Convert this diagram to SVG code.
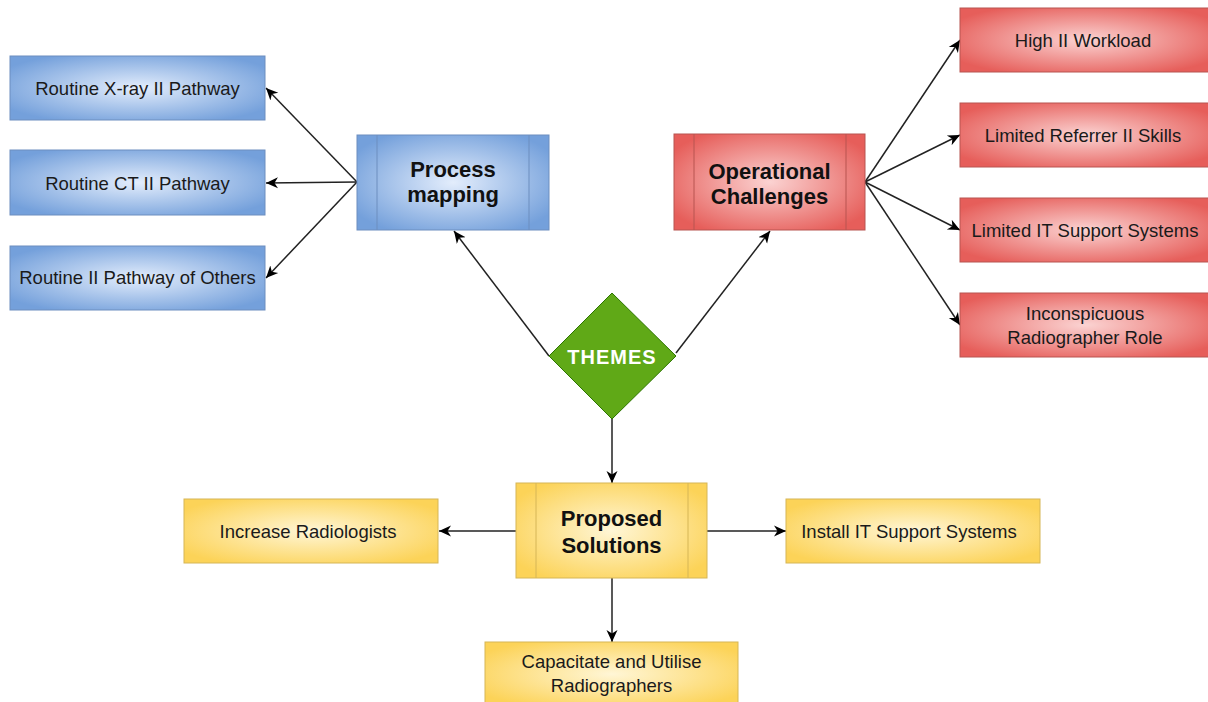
<svg xmlns="http://www.w3.org/2000/svg" width="1208" height="702" viewBox="0 0 1208 702">
<defs>
<radialGradient id="gBlue" cx="50%" cy="50%" r="60%"><stop offset="0" stop-color="#e3edfc"/><stop offset="1" stop-color="#74a0db"/></radialGradient>
<radialGradient id="gRed" cx="50%" cy="50%" r="60%"><stop offset="0" stop-color="#fbd3d2"/><stop offset="1" stop-color="#e65e5a"/></radialGradient>
<radialGradient id="gYel" cx="50%" cy="50%" r="60%"><stop offset="0" stop-color="#fff6d6"/><stop offset="1" stop-color="#fcd358"/></radialGradient>
<marker id="arr" markerUnits="userSpaceOnUse" markerWidth="14" markerHeight="14" refX="12" refY="7" orient="auto">
<path d="M0,1.5 L12,7 L0,12.5 L3.5,7 z" fill="#000"/>
</marker>
<style>
.blue{fill:url(#gBlue);stroke:#6c8ebf;stroke-width:1}
.red{fill:url(#gRed);stroke:#b85450;stroke-width:1}
.yel{fill:url(#gYel);stroke:#d6b656;stroke-width:1}
.bl{stroke:#6c8ebf;stroke-width:1}
.rl{stroke:#b85450;stroke-width:1}
.yl{stroke:#d6b656;stroke-width:1}
.t{font-family:"Liberation Sans",Arial,sans-serif;font-size:18.5px;fill:#1a1a1a;text-anchor:middle}
.h{font-family:"Liberation Sans",Arial,sans-serif;font-size:22px;font-weight:bold;fill:#111;text-anchor:middle}
.c{fill:none;stroke:#222;stroke-width:1.5;marker-end:url(#arr)}
</style>
</defs>
<rect width="1208" height="702" fill="#fff"/>
<g id="connectors">
<path class="c" d="M549,356 L454,231"/>
<path class="c" d="M676,353 L770,231"/>
<path class="c" d="M612,419 L612,483"/>
<path class="c" d="M357,182 L266,88"/>
<path class="c" d="M357,182 L266,183"/>
<path class="c" d="M357,182 L266,278"/>
<path class="c" d="M865,182 L960,40"/>
<path class="c" d="M865,182 L960,135"/>
<path class="c" d="M865,182 L960,230"/>
<path class="c" d="M865,182 L960,325"/>
<path class="c" d="M516,531 L439,531"/>
<path class="c" d="M707,531 L786,531"/>
<path class="c" d="M612,578 L612,642"/>
</g>
<g id="themes">
<polygon points="612,293 676,356 612,419 549,356" fill="#60a917" stroke="#2d7600" stroke-width="1"/>
<text x="612" y="364" font-family="Liberation Sans,Arial,sans-serif" font-size="20px" font-weight="bold" fill="#fff" text-anchor="middle" letter-spacing="1">THEMES</text>
</g>
<g id="process-mapping">
<rect class="blue" x="357" y="135" width="192" height="95"/>
<line class="bl" x1="377" y1="135" x2="377" y2="230"/>
<line class="bl" x1="529" y1="135" x2="529" y2="230"/>
<text class="h" x="453" y="177">Process</text>
<text class="h" x="453" y="202">mapping</text>
</g>
<g id="routine-xray">
<rect class="blue" x="10" y="56" width="255" height="64"/>
<text class="t" x="137.5" y="95">Routine X-ray II Pathway</text>
</g>
<g id="routine-ct">
<rect class="blue" x="10" y="150" width="255" height="65"/>
<text class="t" x="137.5" y="190">Routine CT II Pathway</text>
</g>
<g id="routine-others">
<rect class="blue" x="10" y="246" width="255" height="64"/>
<text class="t" x="137.5" y="284">Routine II Pathway of Others</text>
</g>
<g id="operational-challenges">
<rect class="red" x="674" y="134" width="191" height="96"/>
<line class="rl" x1="694" y1="134" x2="694" y2="230"/>
<line class="rl" x1="846" y1="134" x2="846" y2="230"/>
<text class="h" x="769.5" y="179">Operational</text>
<text class="h" x="769.5" y="204">Challenges</text>
</g>
<g id="high-workload">
<rect class="red" x="960" y="8" width="250" height="64"/>
<text class="t" x="1083" y="47">High II Workload</text>
</g>
<g id="limited-referrer">
<rect class="red" x="960" y="103" width="250" height="64"/>
<text class="t" x="1083" y="142">Limited Referrer II Skills</text>
</g>
<g id="limited-it">
<rect class="red" x="960" y="198" width="250" height="64"/>
<text class="t" x="1085" y="237">Limited IT Support Systems</text>
</g>
<g id="inconspicuous">
<rect class="red" x="960" y="293" width="250" height="64"/>
<text class="t" x="1085" y="320">Inconspicuous</text>
<text class="t" x="1085" y="344">Radiographer Role</text>
</g>
<g id="proposed-solutions">
<rect class="yel" x="516" y="483" width="191" height="95"/>
<line class="yl" x1="536" y1="483" x2="536" y2="578"/>
<line class="yl" x1="688" y1="483" x2="688" y2="578"/>
<text class="h" x="611.5" y="526">Proposed</text>
<text class="h" x="611.5" y="553">Solutions</text>
</g>
<g id="increase-radiologists">
<rect class="yel" x="184" y="499" width="254" height="64"/>
<text class="t" x="308" y="538">Increase Radiologists</text>
</g>
<g id="install-it">
<rect class="yel" x="786" y="499" width="254" height="64"/>
<text class="t" x="909" y="538">Install IT Support Systems</text>
</g>
<g id="capacitate">
<rect class="yel" x="485" y="642" width="253" height="64"/>
<text class="t" x="611.5" y="668">Capacitate and Utilise</text>
<text class="t" x="611.5" y="692">Radiographers</text>
</g>
</svg>
